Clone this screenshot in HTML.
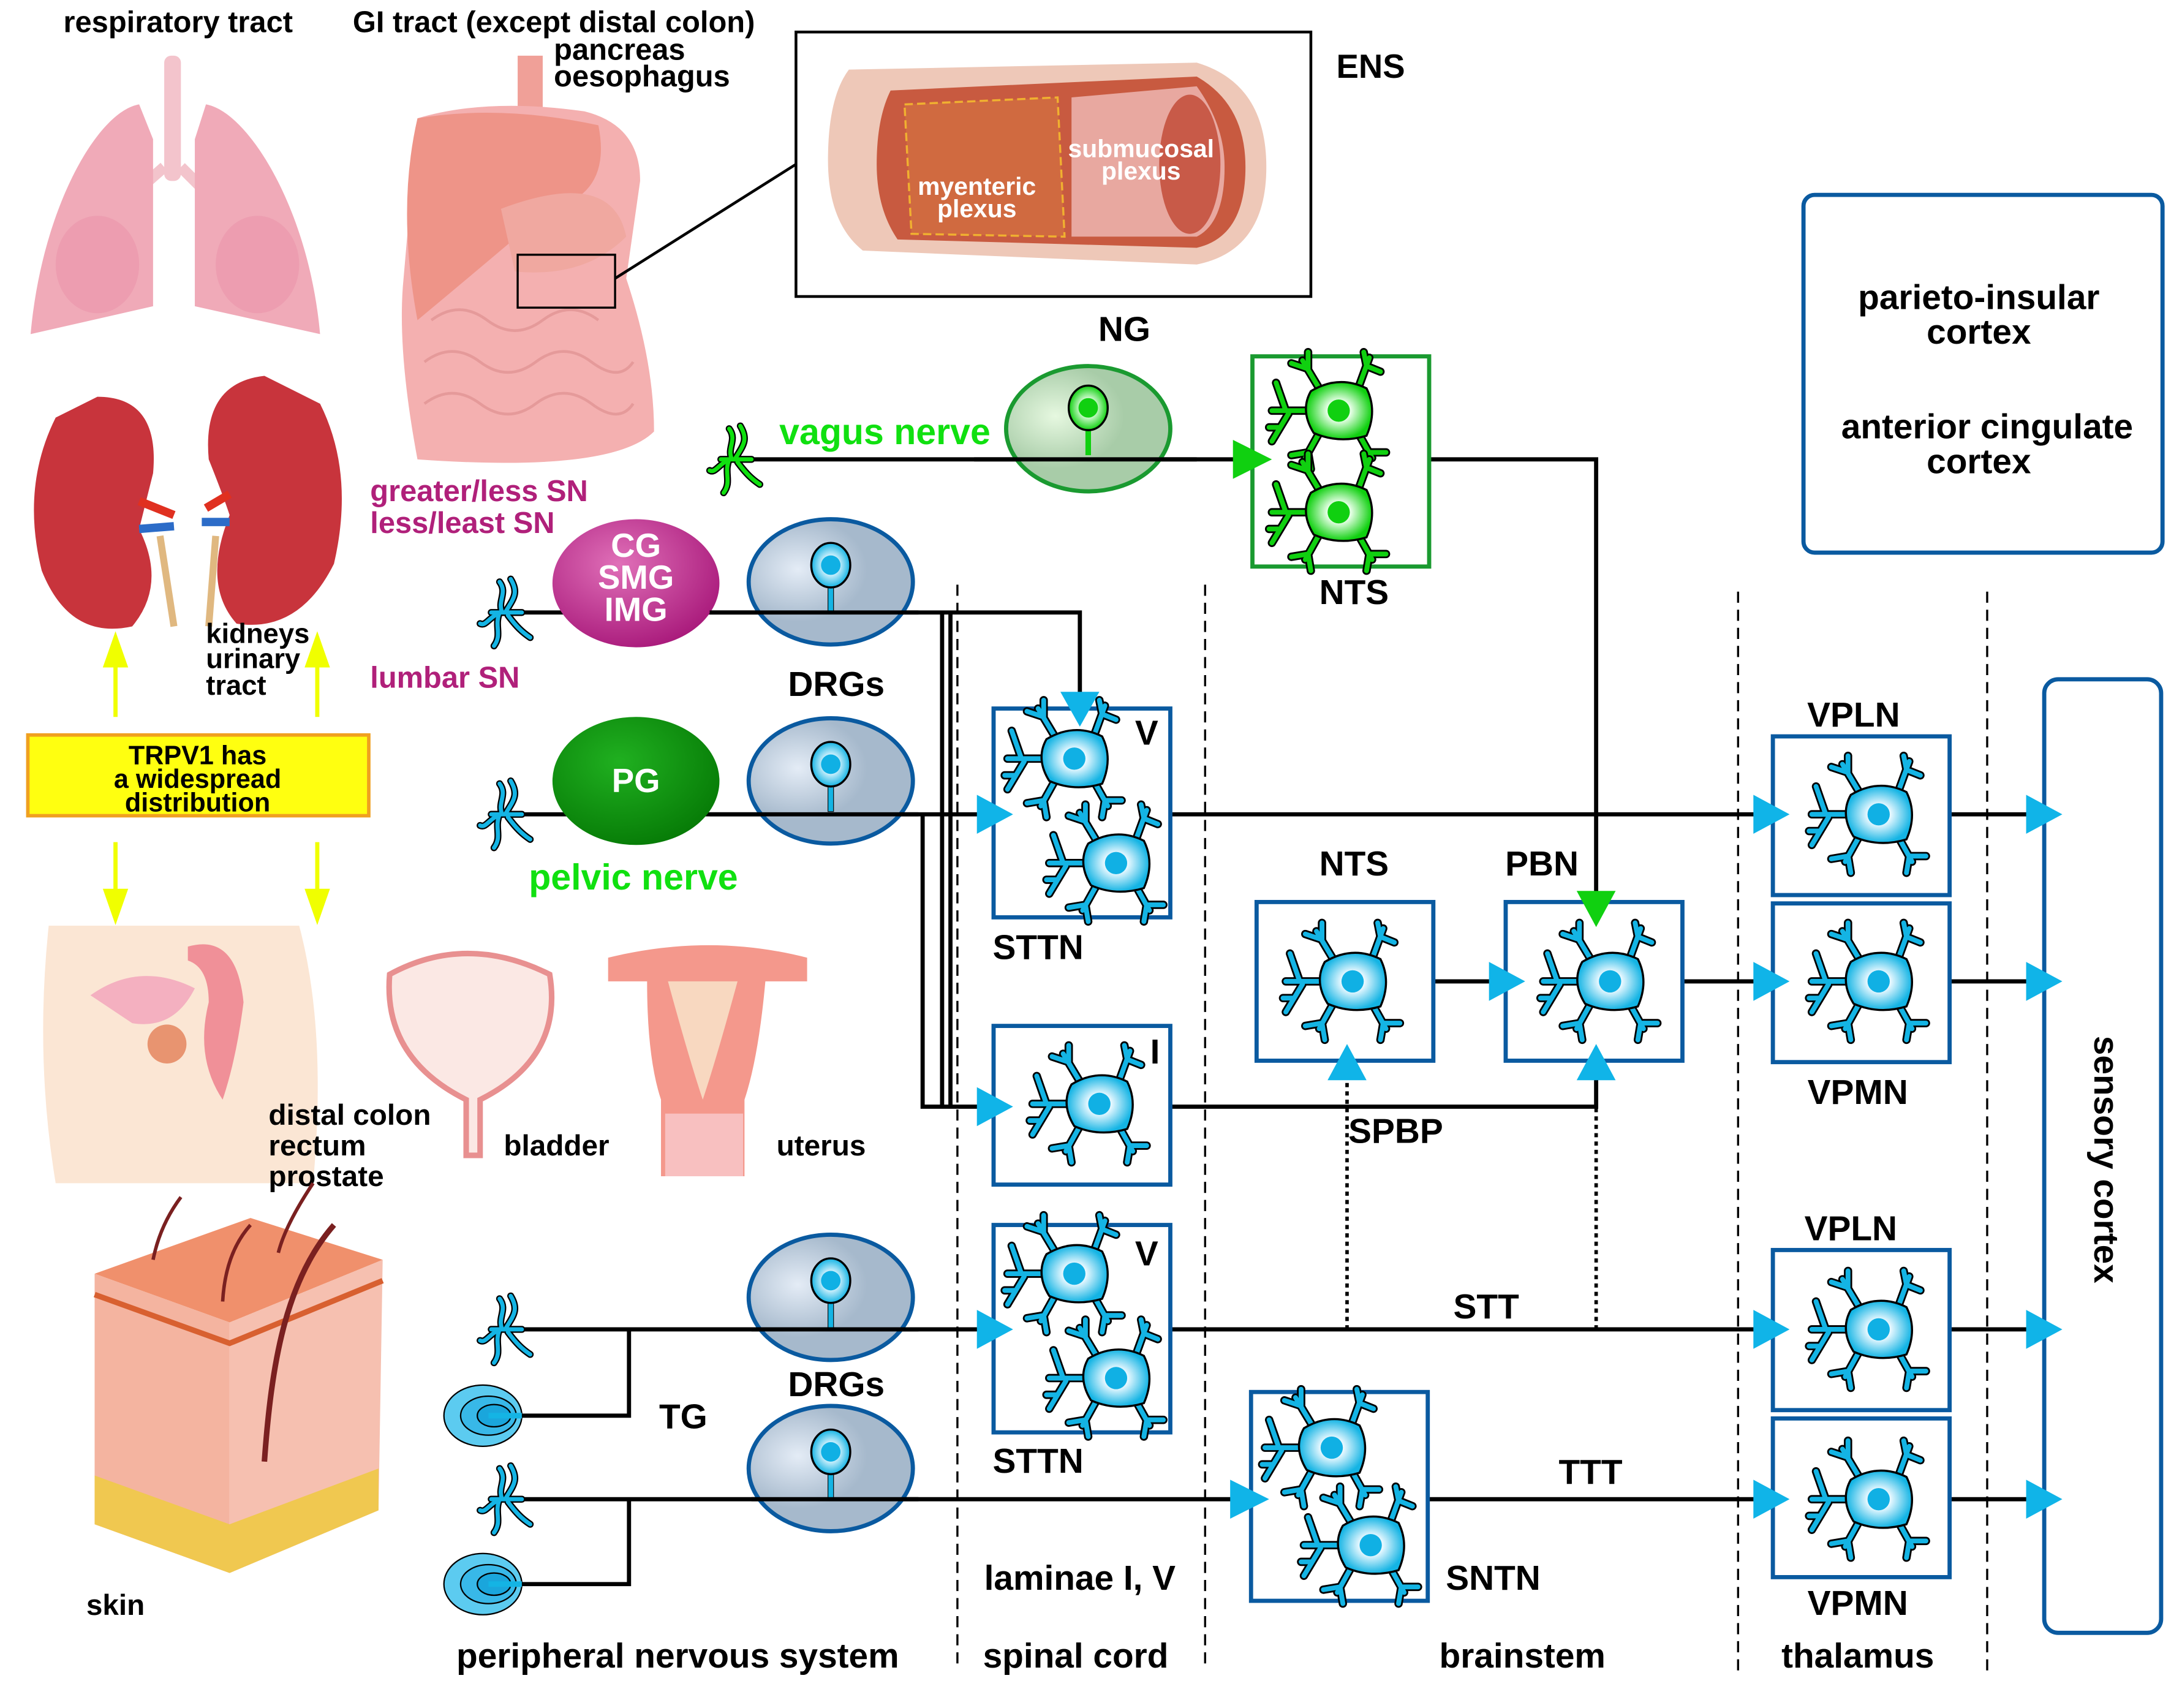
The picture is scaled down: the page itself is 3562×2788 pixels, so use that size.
<!DOCTYPE html>
<html><head><meta charset="utf-8"><style>html,body{margin:0;padding:0;background:#fff}svg{display:block}</style></head><body>
<svg xmlns="http://www.w3.org/2000/svg" width="3562" height="2788" viewBox="0 0 1568 1227" preserveAspectRatio="none" font-family="Liberation Sans, sans-serif" font-weight="bold">
<defs>
<radialGradient id="cb" cx="0.5" cy="0.5" r="0.5"><stop offset="0.35" stop-color="#e8f8ff"/><stop offset="1" stop-color="#14b4e4"/></radialGradient>
<radialGradient id="cg" cx="0.5" cy="0.5" r="0.5"><stop offset="0.35" stop-color="#e8ffe8"/><stop offset="1" stop-color="#10d010"/></radialGradient>
<radialGradient id="drg" cx="0.3" cy="0.4" r="0.7"><stop offset="0" stop-color="#e4ecf6"/><stop offset="0.6" stop-color="#a6b9cc"/></radialGradient>
<radialGradient id="ngg" cx="0.3" cy="0.4" r="0.7"><stop offset="0" stop-color="#e6f8e0"/><stop offset="0.6" stop-color="#a8cca8"/></radialGradient>
<radialGradient id="mag" cx="0.4" cy="0.35" r="0.7"><stop offset="0" stop-color="#e070b8"/><stop offset="1" stop-color="#a8187a"/></radialGradient>
<radialGradient id="grn" cx="0.4" cy="0.35" r="0.7"><stop offset="0" stop-color="#20b020"/><stop offset="1" stop-color="#067a06"/></radialGradient>
<g id="dend">
<path d="M-20,0 L-48,0 M-38,0 L-45,-20 M-36,2 L-48,22 M-42,12 L-50,12 M-14,-16 L-26,-36 M-22,-30 L-34,-34 M-22,-30 L-22,-42 M14,-16 L22,-38 M20,-32 L30,-28 M20,-32 L18,-42 M-14,16 L-24,34 M-22,30 L-34,32 M-22,30 L-20,42 M14,16 L24,34 M22,30 L34,30 M22,30 L20,42" fill="none" stroke-linecap="round"/>
</g>
<g id="nb">
<use href="#dend" stroke="#000" stroke-width="6"/>
<use href="#dend" stroke="#14b4e4" stroke-width="3.5"/>
<path d="M-20,-14 Q0,-26 20,-16 Q28,0 20,18 Q0,24 -18,16 Q-28,0 -20,-14Z" fill="url(#cb)" stroke="#000" stroke-width="1.5"/>
<circle r="8" fill="#10b0e4"/>
</g>
<g id="ngn">
<use href="#dend" stroke="#000" stroke-width="6"/>
<use href="#dend" stroke="#10d010" stroke-width="3.5"/>
<path d="M-20,-14 Q0,-26 20,-16 Q28,0 20,18 Q0,24 -18,16 Q-28,0 -20,-14Z" fill="url(#cg)" stroke="#000" stroke-width="1.5"/>
<circle r="8" fill="#10d010"/>
</g>
<g id="pn">
<rect x="-2" y="12" width="4" height="22" fill="#14b4e4" stroke="#000" stroke-width="0.5"/>
<ellipse rx="14" ry="16" fill="url(#cb)" stroke="#000" stroke-width="1.5"/>
<circle r="7" fill="#10b0e4"/>
</g>
<g id="end">
<path d="M0,0 L-22,0 M-14,0 C-18,-8 -10,-14 -16,-22 M-12,0 C-6,-10 -2,-14 -8,-24 M-16,0 C-24,4 -26,10 -30,8 M-16,0 C-20,10 -14,16 -20,24 M-10,2 C-4,10 0,14 6,18" fill="none" stroke="#000" stroke-width="5" stroke-linecap="round"/>
<path d="M0,0 L-22,0 M-14,0 C-18,-8 -10,-14 -16,-22 M-12,0 C-6,-10 -2,-14 -8,-24 M-16,0 C-24,4 -26,10 -30,8 M-16,0 C-20,10 -14,16 -20,24 M-10,2 C-4,10 0,14 6,18" fill="none" stroke="#14b4e4" stroke-width="3" stroke-linecap="round"/>
</g>
<g id="spir">
<ellipse cx="-28" cy="0" rx="28" ry="22" fill="#5ccbf0" stroke="#000" stroke-width="1"/>
<ellipse cx="-24" cy="0" rx="20" ry="14" fill="#38b8e8" stroke="#000" stroke-width="1"/>
<ellipse cx="-20" cy="0" rx="12" ry="8" fill="#1aa6dc" stroke="#000" stroke-width="1"/>
<rect x="-24" y="-2" width="24" height="4" fill="#14b4e4"/>
</g>
</defs>

<g font-size="21.5" fill="#000">
<text x="128" y="23" text-anchor="middle">respiratory tract</text>
<text x="398" y="23" text-anchor="middle">GI tract (except distal colon)</text>
<text x="398" y="43">pancreas</text>
<text x="398" y="62">oesophagus</text>
</g>
<rect x="118" y="40" width="12" height="90" fill="#f3c4cc" rx="5"/>
<path d="M118,120 L95,140 M130,120 L150,140" stroke="#f3c4cc" stroke-width="8"/>
<path d="M100,75 C70,80 30,150 22,240 L110,220 L110,100Z" fill="#f0aab8"/>
<path d="M148,75 C178,80 222,150 230,240 L140,220 L140,100Z" fill="#f0aab8"/>
<ellipse cx="70" cy="190" rx="30" ry="35" fill="#ea90a8" opacity="0.5"/>
<ellipse cx="185" cy="190" rx="30" ry="35" fill="#ea90a8" opacity="0.5"/>
<rect x="372" y="40" width="18" height="45" fill="#f0a098"/>
<path d="M300,85 Q350,70 420,80 Q460,90 460,130 L450,200 Q470,260 470,310 Q440,340 300,330 Q285,250 290,200Z" fill="#f4b0b0"/>
<path d="M300,85 Q360,75 430,90 Q440,140 395,150 Q360,180 300,230 Q285,150 300,85Z" fill="#ee9488"/>
<path d="M360,150 Q440,120 450,170 Q420,200 370,195Z" fill="#f0a8a0"/>
<g fill="none" stroke="#e59a9a" stroke-width="2">
<path d="M310,230 q20,-15 40,0 t40,0 t40,0"/><path d="M305,260 q20,-15 40,0 t40,0 t40,0 t30,0"/><path d="M305,290 q20,-15 40,0 t40,0 t40,0 t30,0"/>
</g>
<rect x="372" y="183" width="70" height="38" fill="none" stroke="#000" stroke-width="1.5"/>
<line x1="442" y1="200" x2="572" y2="118" stroke="#000" stroke-width="2"/>
<rect x="572" y="23" width="370" height="190" fill="#fff" stroke="#000" stroke-width="2"/>
<path d="M610,50 L860,45 Q910,60 910,120 Q910,180 860,190 L620,180 Q595,160 595,115 Q595,70 610,50Z" fill="#eec8b8"/>
<path d="M640,65 L860,55 Q895,75 895,120 Q895,170 860,178 L645,172 Q630,150 630,118 Q630,85 640,65Z" fill="#c85a40"/>
<path d="M650,75 L760,70 L765,170 L655,168Z" fill="#d06a40" stroke="#f0b030" stroke-width="1.5" stroke-dasharray="6 3"/>
<path d="M770,70 L860,62 Q880,90 880,120 Q880,160 860,170 L770,170Z" fill="#e8a8a0"/>
<ellipse cx="855" cy="118" rx="22" ry="50" fill="#c85a48"/>
<text x="985" y="56" font-size="24" text-anchor="middle">ENS</text>
<g fill="#fff" font-size="18" text-anchor="middle">
<text x="702" y="140">myenteric</text><text x="702" y="156">plexus</text>
<text x="820" y="113">submucosal</text><text x="820" y="129">plexus</text>
</g>
<path d="M70,285 Q115,285 110,340 Q105,360 100,380 Q120,420 95,450 Q50,460 30,410 Q15,350 40,300Z" fill="#c8343c"/>
<path d="M190,270 Q145,275 150,330 Q160,355 165,370 Q145,420 170,448 Q215,455 240,405 Q255,340 230,290Z" fill="#c8343c"/>
<path d="M100,360 L125,370 M165,355 L148,365" stroke="#e03020" stroke-width="6"/>
<path d="M100,380 L125,378 M165,375 L145,375" stroke="#2c6cc8" stroke-width="6"/>
<path d="M115,385 L125,450 M155,385 L150,450" stroke="#e0b880" stroke-width="5"/>
<g font-size="20"><text x="148" y="462">kidneys</text><text x="148" y="480">urinary</text><text x="148" y="499">tract</text></g>
<g stroke="#f0ff00" stroke-width="3" fill="#f0ff00">
<line x1="83" y1="475" x2="83" y2="515"/><polygon points="76,478 90,478 83,458"/>
<line x1="228" y1="475" x2="228" y2="515"/><polygon points="221,478 235,478 228,458"/>
<line x1="83" y1="605" x2="83" y2="643"/><polygon points="76,640 90,640 83,660"/>
<line x1="228" y1="605" x2="228" y2="643"/><polygon points="221,640 235,640 228,660"/>
</g>
<rect x="20" y="528" width="245" height="58" fill="#ffff10" stroke="#f0a020" stroke-width="2.5"/>
<g font-size="19" text-anchor="middle"><text x="142" y="549">TRPV1 has</text><text x="142" y="566">a widespread</text><text x="142" y="583">distribution</text></g>
<path d="M35,665 L215,665 Q235,740 225,850 L40,850 Q25,760 35,665Z" fill="#fbe6d4"/>
<path d="M65,715 Q100,690 140,710 Q125,740 95,735Z" fill="#f4b0c0"/>
<circle cx="120" cy="750" r="14" fill="#e89470"/>
<path d="M135,680 Q170,670 175,720 Q170,760 160,790 Q140,760 150,720 Q150,695 135,690Z" fill="#f09098"/>
<g font-size="21"><text x="193" y="808">distal colon</text><text x="193" y="830">rectum</text><text x="193" y="852">prostate</text></g>
<path d="M280,700 Q335,670 395,700 Q405,760 345,790 L345,830 L335,830 L335,790 Q275,760 280,700Z" fill="#fbe8e4" stroke="#e89090" stroke-width="4"/>
<text x="362" y="830" font-size="21">bladder</text>
<path d="M437,688 Q510,670 580,688 L580,705 L550,705 Q545,760 535,790 L535,845 L475,845 L475,790 Q465,760 465,705 L437,705Z" fill="#f4988c"/>
<path d="M480,705 L530,705 Q515,760 505,790 Q495,760 480,705Z" fill="#f8d8c0"/>
<rect x="478" y="800" width="56" height="45" fill="#f8c0c0"/>
<text x="558" y="830" font-size="21">uterus</text>
<path d="M68,915 L180,875 L275,905 L165,950Z" fill="#f0906c"/>
<path d="M68,915 L165,950 L165,1130 L68,1095Z" fill="#f4b4a0"/>
<path d="M165,950 L275,905 L272,1085 L165,1130Z" fill="#f6c0b0"/>
<path d="M68,1060 L165,1095 L272,1055 L272,1085 L165,1130 L68,1095Z" fill="#f0c850"/>
<path d="M68,930 L165,965 L275,920" fill="none" stroke="#d86030" stroke-width="4"/>
<path d="M190,1050 C195,980 205,920 240,880" stroke="#7a2020" stroke-width="4" fill="none"/>
<path d="M110,905 Q115,880 130,860 M160,935 Q162,900 180,880 M200,900 Q205,880 225,850" stroke="#7a2020" stroke-width="2.5" fill="none"/>
<text x="62" y="1160" font-size="21">skin</text>

<g fill="#b0207a" font-size="21.5"><text x="266" y="360">greater/less SN</text><text x="266" y="383">less/least SN</text><text x="266" y="494">lumbar SN</text></g>
<g fill="#10e010" font-size="26"><text x="560" y="319">vagus nerve</text><text x="380" y="639">pelvic nerve</text></g>

<g stroke="#000" stroke-width="1.5" stroke-dasharray="8 5">
<line x1="688" y1="420" x2="688" y2="1200"/><line x1="866" y1="420" x2="866" y2="1200"/>
<line x1="1249" y1="425" x2="1249" y2="1200"/><line x1="1428" y1="425" x2="1428" y2="1200"/>
</g>

<g stroke="#0a5aa0" stroke-width="3" fill="#fff">
<rect x="1296" y="140" width="258" height="257" rx="8"/>
<rect x="1469" y="488" width="84" height="685" rx="10"/>
</g>

<g stroke="#000" stroke-width="3" fill="none">
<path d="M540,330 L895,330"/>
<path d="M1027,330 L1147,330 L1147,645"/>
<path d="M375,440 L776,440 L776,500"/>
<path d="M677,440 L677,795 M683,440 L683,795 M663,585 L663,795 L705,795"/>
<path d="M375,585 L705,585"/>
<path d="M841,585 L1262,585 M1401,585 L1470,585"/>
<path d="M1030,705 L1072,705 M1209,705 L1262,705 M1401,705 L1470,705"/>
<path d="M841,795 L1147,795 L1147,772"/>
<path d="M375,955 L705,955 M375,1017 L452,1017 L452,955"/>
<path d="M841,955 L1262,955 M1401,955 L1470,955"/>
<path d="M375,1077 L890,1077 M375,1138 L452,1138 L452,1077"/>
<path d="M1026,1077 L1262,1077 M1401,1077 L1470,1077"/>
</g>
<g stroke="#000" stroke-width="2.5" stroke-dasharray="3 3">
<line x1="968" y1="955" x2="968" y2="775"/><line x1="1147" y1="955" x2="1147" y2="795"/>
</g>

<ellipse cx="782" cy="308" rx="59" ry="45" fill="url(#ngg)" stroke="#1a9a30" stroke-width="3"/>
<g transform="translate(782,293)"><rect x="-2" y="12" width="4" height="22" fill="#10d010"/><ellipse rx="14" ry="16" fill="url(#cg)" stroke="#000" stroke-width="1.5"/><circle r="7" fill="#10d010"/></g>
<line x1="700" y1="330" x2="860" y2="330" stroke="#000" stroke-width="3"/>
<ellipse cx="457" cy="419" rx="60" ry="46" fill="url(#mag)"/>
<g fill="#fff" font-size="24" text-anchor="middle"><text x="457" y="400">CG</text><text x="457" y="423">SMG</text><text x="457" y="446">IMG</text></g>
<ellipse cx="457" cy="561" rx="60" ry="46" fill="url(#grn)"/>
<text x="457" y="569" fill="#fff" font-size="24" text-anchor="middle">PG</text>
<g stroke="#0a5aa0" stroke-width="3" fill="url(#drg)">
<ellipse cx="597" cy="418" rx="59" ry="45"/><ellipse cx="597" cy="561" rx="59" ry="45"/>
<ellipse cx="597" cy="932" rx="59" ry="45"/><ellipse cx="597" cy="1055" rx="59" ry="45"/>
</g>
<use href="#pn" x="597" y="406"/><use href="#pn" x="597" y="549"/><use href="#pn" x="597" y="920"/><use href="#pn" x="597" y="1043"/>
<g stroke="#000" stroke-width="3"><line x1="510" y1="440" x2="660" y2="440"/><line x1="510" y1="585" x2="660" y2="585"/><line x1="540" y1="955" x2="660" y2="955"/><line x1="540" y1="1077" x2="660" y2="1077"/></g>

<g transform="translate(540,330)">
<path d="M0,0 L-22,0 M-14,0 C-18,-8 -10,-14 -16,-22 M-12,0 C-6,-10 -2,-14 -8,-24 M-16,0 C-24,4 -26,10 -30,8 M-16,0 C-20,10 -14,16 -20,24 M-10,2 C-4,10 0,14 6,18" fill="none" stroke="#000" stroke-width="5" stroke-linecap="round"/>
<path d="M0,0 L-22,0 M-14,0 C-18,-8 -10,-14 -16,-22 M-12,0 C-6,-10 -2,-14 -8,-24 M-16,0 C-24,4 -26,10 -30,8 M-16,0 C-20,10 -14,16 -20,24 M-10,2 C-4,10 0,14 6,18" fill="none" stroke="#10e010" stroke-width="3" stroke-linecap="round"/>
</g>
<use href="#end" x="375" y="440"/><use href="#end" x="375" y="585"/>
<use href="#end" x="375" y="955"/><use href="#end" x="375" y="1077"/>
<use href="#spir" x="375" y="1017"/><use href="#spir" x="375" y="1138"/>

<rect x="900" y="256" width="127" height="151" fill="#fff" stroke="#1a9a30" stroke-width="3"/>
<use href="#ngn" x="962" y="295"/><use href="#ngn" x="962" y="368"/>
<g fill="#fff" stroke="#0a5aa0" stroke-width="3">
<rect x="714" y="509" width="127" height="150"/>
<rect x="714" y="737" width="127" height="114"/>
<rect x="714" y="880" width="127" height="149"/>
<rect x="903" y="648" width="127" height="114"/>
<rect x="1082" y="648" width="127" height="114"/>
<rect x="899" y="1000" width="127" height="150"/>
<rect x="1274" y="529" width="127" height="114"/>
<rect x="1274" y="649" width="127" height="114"/>
<rect x="1274" y="898" width="127" height="115"/>
<rect x="1274" y="1019" width="127" height="114"/>
</g>
<use href="#nb" x="772" y="545"/><use href="#nb" x="802" y="620"/>
<use href="#nb" x="790" y="793"/>
<use href="#nb" x="772" y="915"/><use href="#nb" x="802" y="990"/>
<use href="#nb" x="972" y="705"/><use href="#nb" x="1157" y="705"/>
<use href="#nb" x="957" y="1040"/><use href="#nb" x="985" y="1110"/>
<use href="#nb" x="1350" y="585"/><use href="#nb" x="1350" y="705"/>
<use href="#nb" x="1350" y="955"/><use href="#nb" x="1350" y="1077"/>

<g fill="#10b4e8">
<polygon points="762,497 790,497 776,522"/>
<polygon points="702,571 702,599 728,585"/>
<polygon points="702,781 702,809 728,795"/>
<polygon points="702,941 702,969 728,955"/>
<polygon points="884,1063 884,1091 912,1077"/>
<polygon points="1070,691 1070,719 1096,705"/>
<polygon points="1260,571 1260,599 1286,585"/>
<polygon points="1260,691 1260,719 1286,705"/>
<polygon points="1260,941 1260,969 1286,955"/>
<polygon points="1260,1063 1260,1091 1286,1077"/>
<polygon points="954,776 982,776 968,750"/>
<polygon points="1133,776 1161,776 1147,750"/>
<polygon points="1456,571 1456,599 1482,585"/>
<polygon points="1456,691 1456,719 1482,705"/>
<polygon points="1456,941 1456,969 1482,955"/>
<polygon points="1456,1063 1456,1091 1482,1077"/>
</g>
<polygon points="886,316 886,344 914,330" fill="#10d010"/>
<polygon points="1133,640 1161,640 1147,666" fill="#10d010"/>

<g font-size="25" fill="#000">
<text x="808" y="245" text-anchor="middle">NG</text>
<text x="973" y="434" text-anchor="middle">NTS</text>
<text x="601" y="500" text-anchor="middle">DRGs</text>
<text x="601" y="1003" text-anchor="middle">DRGs</text>
<text x="491" y="1026" text-anchor="middle">TG</text>
<text x="824" y="535" text-anchor="middle">V</text>
<text x="824" y="909" text-anchor="middle">V</text>
<text x="830" y="764" text-anchor="middle">I</text>
<text x="746" y="689" text-anchor="middle">STTN</text>
<text x="746" y="1058" text-anchor="middle">STTN</text>
<text x="973" y="629" text-anchor="middle">NTS</text>
<text x="1108" y="629" text-anchor="middle">PBN</text>
<text x="1003" y="821" text-anchor="middle">SPBP</text>
<text x="1068" y="947" text-anchor="middle">STT</text>
<text x="1143" y="1066" text-anchor="middle">TTT</text>
<text x="1073" y="1142" text-anchor="middle">SNTN</text>
<text x="1332" y="522" text-anchor="middle">VPLN</text>
<text x="1335" y="793" text-anchor="middle">VPMN</text>
<text x="1330" y="891" text-anchor="middle">VPLN</text>
<text x="1335" y="1160" text-anchor="middle">VPMN</text>
<text x="776" y="1142" text-anchor="middle">laminae I, V</text>
<text x="487" y="1198" text-anchor="middle">peripheral nervous system</text>
<text x="773" y="1198" text-anchor="middle">spinal cord</text>
<text x="1094" y="1198" text-anchor="middle">brainstem</text>
<text x="1335" y="1198" text-anchor="middle">thalamus</text>
<text x="1422" y="222" text-anchor="middle">parieto-insular</text>
<text x="1422" y="247" text-anchor="middle">cortex</text>
<text x="1428" y="315" text-anchor="middle">anterior cingulate</text>
<text x="1422" y="340" text-anchor="middle">cortex</text>
<text transform="translate(1505,833) rotate(90)" text-anchor="middle">sensory cortex</text>
</g>
</svg>
</body></html>
